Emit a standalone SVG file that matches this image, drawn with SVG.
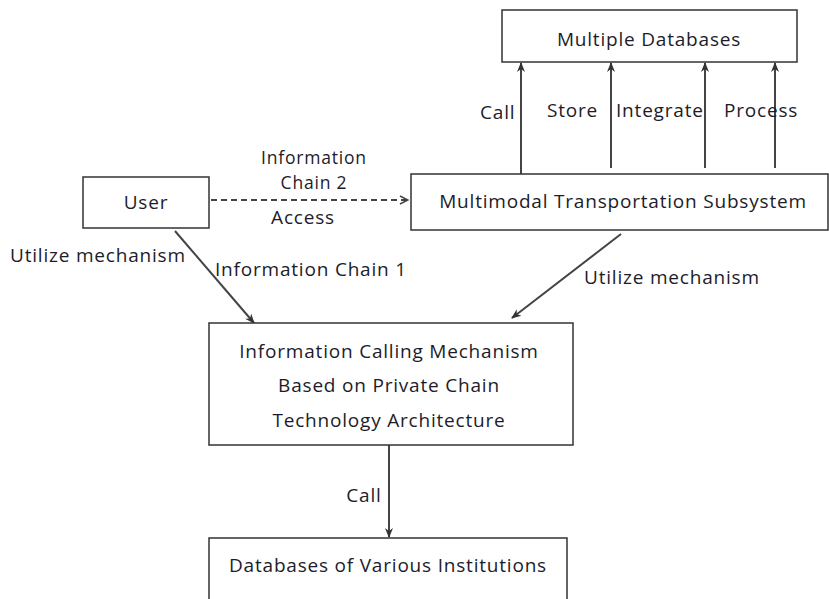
<svg xmlns="http://www.w3.org/2000/svg" width="829" height="599" viewBox="0 0 829 599">
<style>
.box{fill:#fff;stroke:#333;stroke-width:1.5}
.t{font-family:"Open Sans","Liberation Sans",sans-serif;font-size:19px;letter-spacing:0.8px;fill:#1c1c2a}
.s{font-size:17.5px}
.c{text-anchor:middle}
.ln{stroke:#444;stroke-width:2;fill:none}
</style>
<defs>
<marker id="ah" viewBox="0 0 10 10" refX="9" refY="5" markerWidth="5" markerHeight="5" orient="auto"><path d="M0,1 L10,5 L0,9 L3,5 Z" fill="#333"/></marker>
<marker id="oa" viewBox="0 0 10 10" refX="9" refY="5" markerWidth="5" markerHeight="5" orient="auto"><path d="M1,1 L9,5 L1,9" fill="none" stroke="#444" stroke-width="1.5"/></marker>
</defs>
<rect width="829" height="599" fill="#fff"/>
<g id="connectors">
<line class="ln" x1="521" y1="174" x2="521" y2="63" marker-end="url(#ah)"/>
<line class="ln" x1="611" y1="168" x2="611" y2="63" marker-end="url(#ah)"/>
<line class="ln" x1="705" y1="168" x2="705" y2="63" marker-end="url(#ah)"/>
<line class="ln" x1="775" y1="168" x2="775" y2="63" marker-end="url(#ah)"/>
<line class="ln" x1="211" y1="200" x2="408" y2="200" stroke-dasharray="6,4" marker-end="url(#oa)"/>
<line class="ln" x1="175" y1="231" x2="254" y2="323" marker-end="url(#ah)"/>
<line class="ln" x1="621" y1="234" x2="512" y2="318" marker-end="url(#ah)"/>
<line class="ln" x1="389" y1="445" x2="389" y2="537" marker-end="url(#ah)"/>
<text class="t" x="480" y="119">Call</text>
<text class="t" x="547" y="117">Store</text>
<text class="t" x="616" y="117">Integrate</text>
<text class="t" x="724" y="117">Process</text>
<text class="t s c" x="314" y="164">Information</text>
<text class="t s c" x="314" y="189">Chain 2</text>
<text class="t c" x="303" y="224">Access</text>
<text class="t" x="10" y="262">Utilize mechanism</text>
<text class="t" x="215" y="276">Information Chain 1</text>
<text class="t" x="584" y="284">Utilize mechanism</text>
<text class="t c" x="364" y="502">Call</text>
</g>
<g id="multiple-databases">
<rect class="box" x="502" y="10" width="295" height="52"/>
<text class="t c" x="649" y="46">Multiple Databases</text>
</g>
<g id="user">
<rect class="box" x="83" y="177" width="126" height="51"/>
<text class="t c" x="146" y="209">User</text>
</g>
<g id="multimodal">
<rect class="box" x="411" y="174" width="417" height="56"/>
<text class="t c" x="623" y="208">Multimodal Transportation Subsystem</text>
</g>
<g id="icm">
<rect class="box" x="209" y="323" width="364" height="122"/>
<text class="t c" x="389" y="358">Information Calling Mechanism</text>
<text class="t c" x="389" y="392">Based on Private Chain</text>
<text class="t c" x="389" y="427">Technology Architecture</text>
</g>
<g id="databases-institutions">
<rect class="box" x="209" y="538" width="358" height="70"/>
<text class="t c" x="388" y="572">Databases of Various Institutions</text>
</g>
</svg>
